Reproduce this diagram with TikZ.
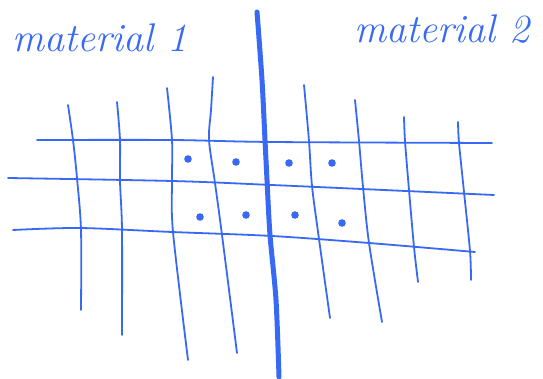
\documentclass[tikz,border=0pt]{standalone}
\usepackage{tikz}
\definecolor{pen}{RGB}{55,105,245}
\begin{document}
\begin{tikzpicture}[x=1pt,y=-1pt,
  gridline/.style={draw=pen,line width=1.8pt,line cap=round,line join=round},
  divider/.style={draw=pen,line width=5pt,line cap=round},
  dotmark/.style={fill=pen},
  label/.style={text=pen,font=\fontsize{40}{44}\selectfont\itshape,inner sep=0pt}]
\useasboundingbox (0,0) rectangle (543,379);
% labels
\node[label,anchor=base west] (m1) at (12,52) {material 1};
\node[label,anchor=base west] (m2) at (354,43) {material 2};
% horizontal lines
\draw[gridline] plot[smooth] coordinates {(37,140) (172,140) (272,142) (492,143)};
\draw[gridline] plot[smooth] coordinates {(8,178) (172,181) (272,185) (494,195)};
\draw[gridline] plot[smooth] coordinates {(13,230) (80,228) (172,232) (272,236) (369,243) (475,252)};
% vertical lines left
\draw[gridline] plot[smooth] coordinates {(68,105) (73,140) (77,178) (81,230) (81,310)};
\draw[gridline] plot[smooth] coordinates {(117,102) (120,140) (120,181) (122,230) (122,335)};
\draw[gridline] plot[smooth] coordinates {(167,88) (172,140) (172,181) (173,232) (188,360)};
\draw[gridline] plot[smooth] coordinates {(213,77) (211,110) (209,140) (215,183) (222,235) (237,353)};
% vertical lines right
\draw[gridline] plot[smooth] coordinates {(304,85) (309,141) (312,186) (319,239) (330,318)};
\draw[gridline] plot[smooth] coordinates {(355,100) (359,141) (363,187) (369,243) (382,322)};
\draw[gridline] plot[smooth] coordinates {(404,117) (405,141) (409,190) (414,247) (418,282)};
\draw[gridline] plot[smooth] coordinates {(458,122) (459,143) (464,192) (470,251) (471,280)};
% divider
\draw[divider] plot[smooth] coordinates {(257,12) (262,80) (265,140) (267,180) (270,235) (276,300) (279,377)};
% dots
\foreach \p in {(188,159),(236,162),(200,217),(246,215),(289,163),(332,163),(295,215),(342,223)}
  \fill[dotmark] \p circle (3.8);
\end{tikzpicture}
\end{document}
